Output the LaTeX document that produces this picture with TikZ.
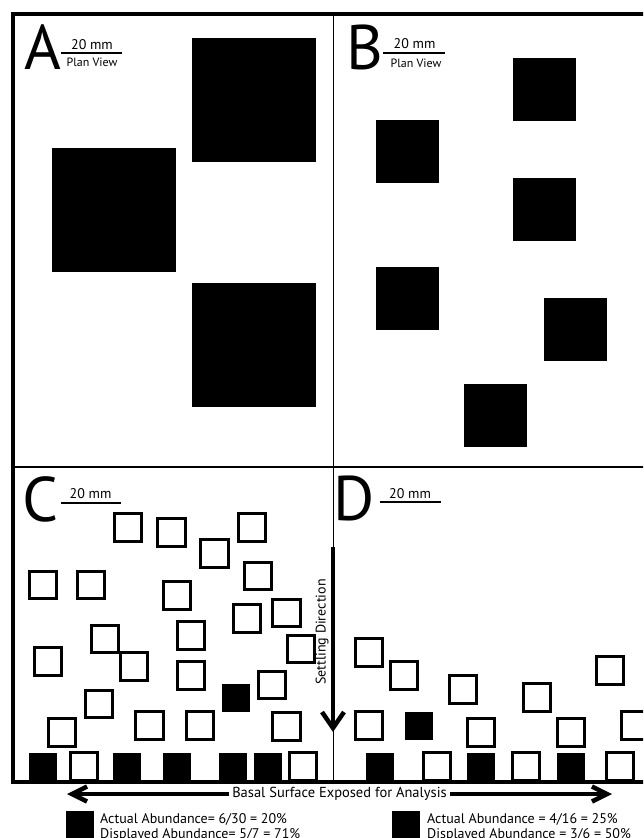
\documentclass[tikz,border=0pt]{standalone}
\usepackage{fontspec}
\setmainfont{PT Sans}
\usetikzlibrary{arrows.meta}

\begin{document}
\begin{tikzpicture}[
  x=1pt, y=-1pt,
  frame/.style={line width=3.2pt},
  letter/.style={anchor=base west,inner sep=0pt,font=\fontsize{63}{63}\selectfont},
  bar/.style={line width=2pt},
  barlabel/.style={inner sep=0pt,font=\fontsize{14}{16}\selectfont},
  planlabel/.style={inner sep=0pt,font=\fontsize{12}{14}\selectfont},
  bigsq/.style={fill=black,minimum size=124pt,inner sep=0pt},
  midsq/.style={fill=black,minimum size=63pt,inner sep=0pt},
  opensq/.style={draw,line width=2.6pt,minimum size=27.5pt,inner sep=0pt},
  fullsq/.style={fill=black,minimum size=28pt,inner sep=0pt},
  legend/.style={anchor=base west,inner sep=0pt,font=\fontsize{14}{16}\selectfont},
  settle/.style={line width=4.5pt,-{Straight Barb[length=16pt,width=22pt,line width=4.5pt]}},
  basal/.style={line width=4.5pt,{Straight Barb[length=15pt,width=15pt,line width=4.5pt]}-{Straight Barb[length=15pt,width=15pt,line width=4.5pt]}}
]
\useasboundingbox (0,0) rectangle (643,838);
\clip (0,0) rectangle (643,838);

% frame and panel dividers
\draw[frame] (700,14) -- (13,14) -- (13,782) -- (700,782);
\draw[line width=2.6pt] (13,467) -- (700,467);
\draw[line width=1pt] (333,14) -- (333,782);

% panel letters
\node[letter] (la) at (24,69) {A};
\node[letter] (lb) at (346,69) {B};
\node[letter] (lc) at (22,521) {C};
\node[letter] (ld) at (333,520) {D};

% scale bars
\draw[bar] (61,53) -- (122,53);
\node[barlabel] (sa) at (92,45) {20 mm};
\node[planlabel] (pa) at (92,62) {Plan View};
\draw[bar] (383,53) -- (445,53);
\node[barlabel] (sb) at (414.5,44) {20 mm};
\node[planlabel] (pb) at (416,63) {Plan View};
\draw[bar] (61,503) -- (121,503);
\node[barlabel] (sc) at (90.5,494) {20 mm};
\draw[bar] (380,502) -- (441,502);
\node[barlabel] (sd) at (410,494) {20 mm};

% A: plan view, large grains
\foreach \x/\y [count=\i] in {254/100, 114/209.5, 254/345}
  \node[bigsq] (a\i) at (\x,\y) {};

% B: plan view, small grains
\foreach \x/\y [count=\i] in {544.5/89.5, 407.5/151, 544.5/209.5, 407.5/298.5, 575.5/329, 495.5/415.5}
  \node[midsq] (b\i) at (\x,\y) {};

% C: settled grains
\foreach \x/\y [count=\i] in {128/527.5, 171.5/532.5, 214.5/553.5, 252/527.5, 43/585, 91/585,
    177/595.5, 258/576, 247/618.5, 286.5/613, 105/639, 48/661.5, 134/666.5, 191/635.5,
    301/649, 191/675.5, 272/685, 99/704, 62/732.5, 149.5/725.5, 200/725.5, 286.5/726.5,
    84/766.5, 303/766.5}
  \node[opensq] (co\i) at (\x,\y) {};
\foreach \x/\y [count=\i] in {236/697.5, 43/766.5, 126.5/766.5, 177/766.5, 233/766.5, 268/766.5}
  \node[fullsq] (cf\i) at (\x,\y) {};

% D: settled grains
\foreach \x/\y [count=\i] in {369/652.5, 404/675.5, 463/689.5, 537/697.5, 610/670.5, 369/725.5,
    481/732.5, 571/732.5, 635/725.5, 437/766.5, 526/766.5, 620/766.5}
  \node[opensq] (do\i) at (\x,\y) {};
\foreach \x/\y [count=\i] in {419/725.5, 379.5/766.5, 481/766.5, 570.5/766.5}
  \node[fullsq] (df\i) at (\x,\y) {};

% settling direction
\coordinate (settletop) at (333,547);
\coordinate (settletip) at (333,732);
\draw[settle] (settletop) -- (settletip);
\node[barlabel,rotate=90] (settlelbl) at (322,632) {Settling Direction};

% basal surface
\coordinate (basall) at (67,794);
\coordinate (basalr) at (612,794);
\draw[basal] (basall) -- (basalr)
  node[midway,fill=white,inner sep=3pt,font=\fontsize{14.5}{16}\selectfont] (basallbl) {Basal Surface Exposed for Analysis};

% legends
\node[fullsq] (keyc) at (79.5,824.5) {};
\node[legend] (kc1) at (100,823.3) {Actual Abundance= 6/30 = 20\%};
\node[legend] (kc2) at (100,838.6) {Displayed Abundance= 5/7 = 71\%};
\node[fullsq] (keyd) at (406,824.5) {};
\node[legend] (kd1) at (427,823.3) {Actual Abundance = 4/16 = 25\%};
\node[legend] (kd2) at (427,838.6) {Displayed Abundance = 3/6 = 50\%};
\end{tikzpicture}
\end{document}
